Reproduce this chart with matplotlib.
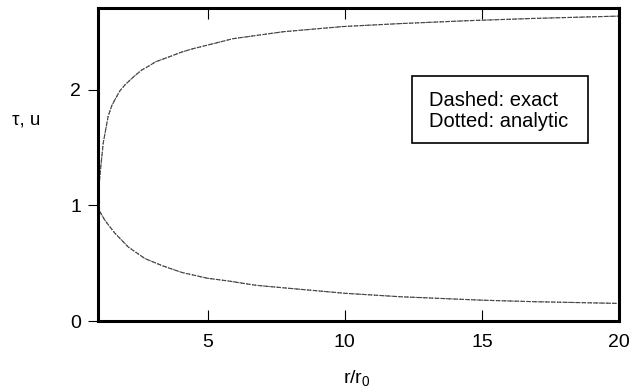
import matplotlib
matplotlib.use("Agg")
import matplotlib.pyplot as plt
from matplotlib.patches import Rectangle

plt.rcParams['font.family'] = ['Liberation Sans', 'DejaVu Sans']
plt.rcParams['mathtext.default'] = 'regular'

# values
r_upper = [1.0, 1.02, 1.04, 1.10, 1.19, 1.37, 1.5, 1.61, 1.8, 1.98, 2.34, 2.6,
           2.83, 3.1, 3.56, 4.0, 4.41, 5.26, 5.93, 7.76, 9.95, 12.0, 14.45,
           16.9, 20.0]
upper_exact = [1.0, 1.07, 1.18, 1.33, 1.54, 1.77, 1.86, 1.91, 1.99, 2.04, 2.12,
               2.17, 2.20, 2.24, 2.28, 2.32, 2.35, 2.40, 2.44, 2.50, 2.545,
               2.57, 2.595, 2.615, 2.635]
upper_analytic = [1.0, 1.07, 1.18, 1.33, 1.54, 1.77, 1.86, 1.91, 1.99, 2.04, 2.12,
                  2.17, 2.20, 2.24, 2.28, 2.32, 2.35, 2.40, 2.44, 2.50, 2.545,
                  2.57, 2.595, 2.615, 2.635]

r_lower = [1.0, 1.03, 1.25, 1.61, 2.10, 2.71, 3.32, 4.05, 4.98, 5.75, 6.72,
           7.15, 9.98, 12.0, 15.0, 16.9, 20.0]
lower_exact = [1.0, 0.96, 0.87, 0.76, 0.64, 0.54, 0.48, 0.42, 0.37, 0.346, 0.31,
               0.30, 0.24, 0.21, 0.18, 0.167, 0.152]
lower_analytic = [1.0, 0.96, 0.87, 0.76, 0.64, 0.54, 0.48, 0.42, 0.37, 0.346, 0.31,
                  0.30, 0.24, 0.21, 0.18, 0.167, 0.152]

xticks = [5, 10, 15, 20]
yticks = [0, 1, 2]
legend_lines = ['Dashed: exact', 'Dotted: analytic']

fig = plt.figure(figsize=(6.3, 3.92), dpi=100)
ax = fig.add_axes([0.1556, 0.1811, 0.8269, 0.7985])

line_color = '#444444'
ax.plot(r_upper, upper_exact, color=line_color, lw=0.8, dashes=(4, 1.5))
ax.plot(r_upper, upper_analytic, color=line_color, lw=0.8, dashes=(1, 1.5))
ax.plot(r_lower, lower_exact, color=line_color, lw=0.8, dashes=(4, 1.5))
ax.plot(r_lower, lower_analytic, color=line_color, lw=0.8, dashes=(1, 1.5))

ax.set_xlim(1, 20)
ax.set_ylim(0, 2.705)
ax.set_xticks(xticks)
ax.set_yticks(yticks)

for sp in ax.spines.values():
    sp.set_linewidth(2.2)

ax.tick_params(axis='x', direction='in', length=8, width=0.8, top=True,
               labelsize=14, pad=9)
ax.tick_params(axis='y', direction='out', length=7, width=0.8,
               labelsize=14, pad=5)

# legend box drawn as plain text in a frame
ax.add_patch(Rectangle((0.603, 0.569), 0.337, 0.214, transform=ax.transAxes,
                       fill=False, lw=1.2, color='black'))
ax.text(0.636, 0.687, legend_lines[0], transform=ax.transAxes, fontsize=14.5,
        va='baseline')
ax.text(0.636, 0.620, legend_lines[1], transform=ax.transAxes, fontsize=14.5,
        va='baseline')

fig.text(26 / 630, 1 - 120 / 392, 'τ, u', fontsize=13.5, ha='center', va='center')
fig.text(357 / 630, 1 - 378 / 392, 'r/r$_0$', fontsize=14, ha='center', va='center')

fig.savefig('out.png', dpi=100)
